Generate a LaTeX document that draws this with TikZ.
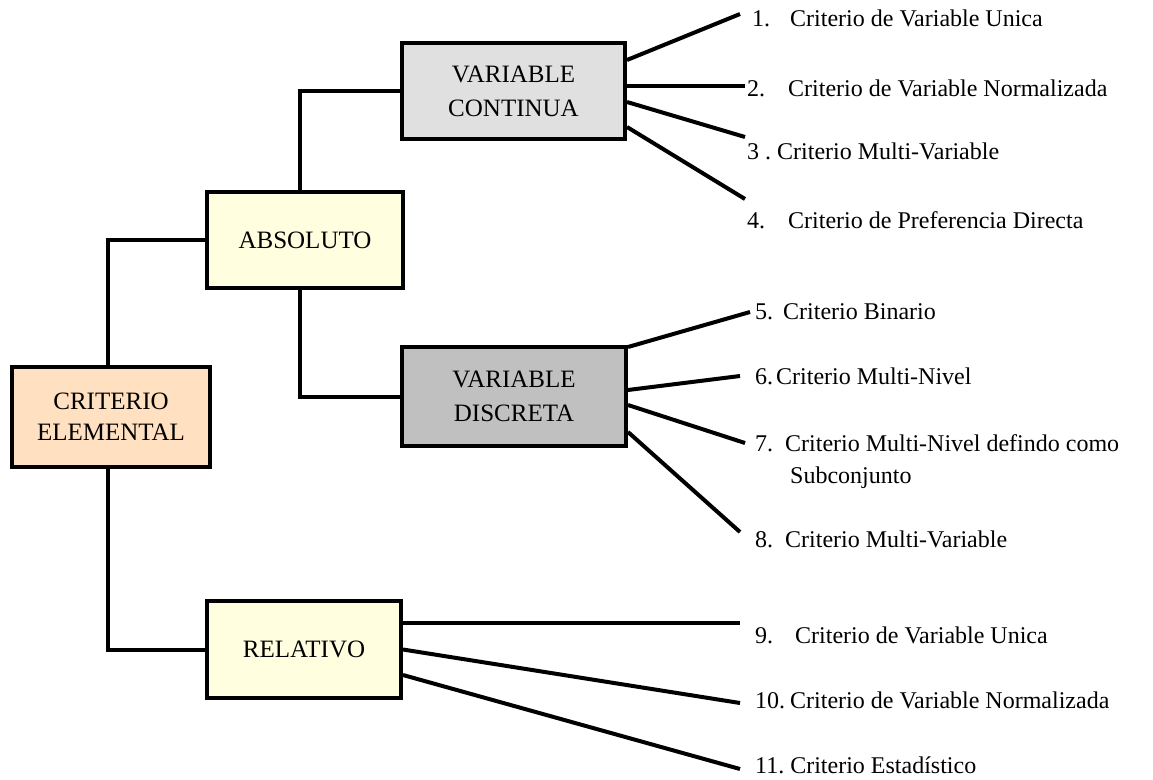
\documentclass[tikz,border=0pt]{standalone}
\usepackage{fontspec}
\setmainfont{Liberation Serif}
\definecolor{critc}{RGB}{255,224,192}
\definecolor{yelc}{RGB}{255,255,224}
\definecolor{contc}{RGB}{224,224,224}
\definecolor{discc}{RGB}{192,192,192}
\begin{document}
\begin{tikzpicture}[x=1pt,y=-1pt,
  box/.style={draw=black, line width=4pt, inner sep=0pt, align=center, font=\fontsize{25}{34}\selectfont},
  conn/.style={line width=4pt},
  lab/.style={anchor=base west, inner sep=0pt, font=\fontsize{24}{30}\selectfont}]
\useasboundingbox (0,0) rectangle (1153,779);
% boxes
\node[box, fill=critc, minimum width=198pt, minimum height=100pt, font=\fontsize{25}{31}\selectfont] (crit) at (111,417) {CRITERIO\\ELEMENTAL};
\node[box, fill=yelc, minimum width=196pt, minimum height=96pt] (abs) at (305,240) {ABSOLUTO};
\node[box, fill=contc, minimum width=223pt, minimum height=96pt] (vc) at (513.5,91) {VARIABLE\\CONTINUA};
\node[box, fill=discc, minimum width=224pt, minimum height=99pt] (vd) at (514,396.5) {VARIABLE\\DISCRETA};
\node[box, fill=yelc, minimum width=194pt, minimum height=97pt] (rel) at (304,649.5) {RELATIVO};
% labels
\node[lab] (t1) at (752,27) {1.\hspace{20pt}Criterio de Variable Unica};
\node[lab] (t2) at (747,96) {2.\hspace{23pt}Criterio de Variable Normalizada};
\node[lab] (t3) at (747,159) {3 .\hspace{6pt}Criterio Multi-Variable};
\node[lab] (t4) at (747,228) {4.\hspace{23pt}Criterio de Preferencia Directa};
\node[lab] (t5) at (755,319) {5.\hspace{10pt}Criterio Binario};
\node[lab] (t6) at (755,384) {6.\hspace{3pt}Criterio Multi-Nivel};
\node[lab] (t7) at (755,451) {7.\hspace{12pt}Criterio Multi-Nivel defindo como};
\node[lab] (t7b) at (790,483) {Subconjunto};
\node[lab] (t8) at (755,547) {8.\hspace{12pt}Criterio Multi-Variable};
\node[lab] (t9) at (755,643) {9.\hspace{22pt}Criterio de Variable Unica};
\node[lab] (t10) at (755,708) {10.\hspace{5pt}Criterio de Variable Normalizada};
\node[lab] (t11) at (755,773) {11.\hspace{6pt}Criterio Estadístico};
% free ends of connectors
\coordinate (e1) at (740,14);
\coordinate (e2) at (745,86);
\coordinate (e3) at (745,137);
\coordinate (e4) at (745,199);
\coordinate (e5) at (750,312);
\coordinate (e6) at (740,376);
\coordinate (e7) at (745,443);
\coordinate (e8) at (740,532);
\coordinate (e9) at (740,623);
\coordinate (e10) at (740,703);
\coordinate (e11) at (740,769);
% tree connectors
\draw[conn] ([xshift=-3pt]crit.north) |- (abs.west);
\draw[conn] ([xshift=-3pt]crit.south) |- (rel.west);
\draw[conn] ([xshift=-5pt]abs.north) |- (vc.west);
\draw[conn] ([xshift=-5pt]abs.south) |- (vd.west);
% fan connectors
\draw[conn] ([yshift=31pt]vc.east) -- (e1);
\draw[conn] ([yshift=5pt]vc.east) -- (e2);
\draw[conn] ([yshift=-11pt]vc.east) -- (e3);
\draw[conn] ([yshift=-36pt]vc.east) -- (e4);
\draw[conn] ([yshift=49.5pt]vd.east) -- (e5);
\draw[conn] ([yshift=6.5pt]vd.east) -- (e6);
\draw[conn] ([yshift=-8.5pt]vd.east) -- (e7);
\draw[conn] ([yshift=-35.5pt]vd.east) -- (e8);
\draw[conn] ([yshift=26.5pt]rel.east) -- (e9);
\draw[conn] (rel.east) -- (e10);
\draw[conn] ([yshift=-25.5pt]rel.east) -- (e11);
\end{tikzpicture}
\end{document}
